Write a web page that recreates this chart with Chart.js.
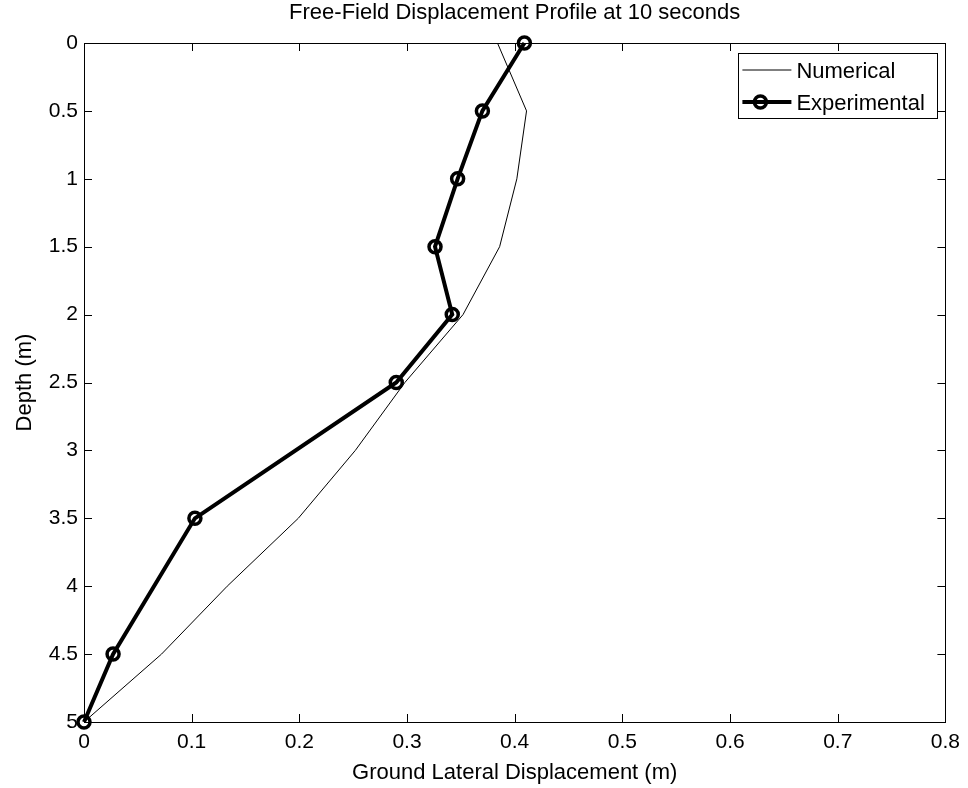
<!DOCTYPE html>
<html>
<head>
<meta charset="utf-8">
<title>Free-Field Displacement Profile</title>
<script src="https://cdn.jsdelivr.net/npm/chart.js@4/dist/chart.umd.min.js"></script>
<style>
  html, body { margin: 0; padding: 0; background: #fff; }
  #wrap { width: 968px; height: 788px; }
</style>
</head>
<body>
<div id="wrap"><canvas id="c" width="968" height="788"></canvas></div>
<script>
// Depth (m) and lateral displacement (m) for each profile
const numericalDepth = [0, 0.5, 1, 1.5, 2, 2.5, 3, 3.5, 4, 4.5, 5];
const numericalDisp  = [0.384, 0.411, 0.402, 0.386, 0.352, 0.298, 0.252, 0.199, 0.133, 0.072, 0];

const experimentalDepth = [0, 0.5, 1, 1.5, 2, 2.5, 3.5, 4.5, 5];
const experimentalDisp  = [0.409, 0.370, 0.347, 0.326, 0.342, 0.290, 0.103, 0.027, 0];

const xTicks = [0, 0.1, 0.2, 0.3, 0.4, 0.5, 0.6, 0.7, 0.8];
const yTicks = [0, 0.5, 1, 1.5, 2, 2.5, 3, 3.5, 4, 4.5, 5];

const FONT = '"Liberation Sans", Arial, Helvetica, sans-serif';
Chart.defaults.color = '#000';
Chart.defaults.font.family = FONT;

const toPoints = (xs, ys) => xs.map((x, i) => ({ x: x, y: ys[i] }));
const plainNumber = v => String(Math.round(v * 1000) / 1000);

// Full box around the axes with inward tick marks on all four sides
const frameTicks = {
  id: 'frameTicks',
  afterDatasetsDraw(chart) {
    const { ctx, chartArea: a, scales } = chart;
    const len = 8;
    ctx.save();
    ctx.strokeStyle = '#000';
    ctx.lineWidth = 1;
    ctx.beginPath();
    scales.x.ticks.forEach(t => {
      const px = Math.round(scales.x.getPixelForValue(t.value)) + 0.5;
      ctx.moveTo(px, a.bottom); ctx.lineTo(px, a.bottom - len);
      ctx.moveTo(px, a.top); ctx.lineTo(px, a.top + len);
    });
    scales.y.ticks.forEach(t => {
      const py = Math.round(scales.y.getPixelForValue(t.value)) + 0.5;
      ctx.moveTo(a.left, py); ctx.lineTo(a.left + len, py);
      ctx.moveTo(a.right, py); ctx.lineTo(a.right - len, py);
    });
    ctx.stroke();
    ctx.strokeRect(Math.round(a.left) + 0.5, Math.round(a.top) + 0.5,
                   Math.round(a.right - a.left), Math.round(a.bottom - a.top));
    ctx.restore();
  }
};

// Boxed legend in the upper-right corner of the axes
const boxLegend = {
  id: 'boxLegend',
  afterDraw(chart) {
    const { ctx, chartArea: a } = chart;
    const ds = chart.data.datasets;
    const bx = a.right - 207, by = a.top + 10, bw = 199, bh = 65;
    ctx.save();
    ctx.fillStyle = '#fff';
    ctx.fillRect(bx, by, bw, bh);
    ctx.strokeStyle = '#000';
    ctx.lineWidth = 1;
    ctx.strokeRect(Math.round(bx) + 0.5, Math.round(by) + 0.5, bw, bh);
    ctx.font = '22px ' + FONT;
    ctx.textBaseline = 'middle';
    ctx.fillStyle = '#000';
    const rows = [by + 17, by + 49];
    ds.forEach((d, i) => {
      const y = rows[i];
      ctx.strokeStyle = d.borderColor;
      ctx.lineWidth = d.borderWidth;
      ctx.beginPath();
      ctx.moveTo(bx + 4, y); ctx.lineTo(bx + 53, y);
      ctx.stroke();
      if (d.pointRadius > 0) {
        ctx.lineWidth = d.pointBorderWidth;
        ctx.beginPath();
        ctx.arc(bx + 22, y, d.pointRadius, 0, Math.PI * 2);
        ctx.stroke();
      }
      ctx.fillText(d.label, bx + 58, y + 2);
    });
    ctx.restore();
  }
};

new Chart(document.getElementById('c'), {
  type: 'scatter',
  data: {
    datasets: [
      {
        label: 'Numerical',
        data: toPoints(numericalDisp, numericalDepth),
        showLine: true,
        borderColor: '#000',
        borderWidth: 1,
        pointRadius: 0,
        pointBorderWidth: 0,
        tension: 0
      },
      {
        label: 'Experimental',
        data: toPoints(experimentalDisp, experimentalDepth),
        showLine: true,
        borderColor: '#000',
        borderWidth: 4,
        pointRadius: 6,
        pointBorderWidth: 3.5,
        pointBackgroundColor: 'rgba(0,0,0,0)',
        pointBorderColor: '#000',
        tension: 0,
        clip: false
      }
    ]
  },
  options: {
    responsive: false,
    animation: false,
    layout: { padding: { left: 0, right: 22, top: 0, bottom: 0 } },
    plugins: {
      legend: { display: false },
      tooltip: { enabled: false },
      title: {
        display: true,
        fullSize: false,
        text: 'Free-Field Displacement Profile at 10 seconds',
        font: { size: 22, weight: 'normal', family: FONT },
        color: '#000',
        padding: { top: 0, bottom: 16.6 }
      }
    },
    scales: {
      x: {
        type: 'linear',
        position: 'bottom',
        min: 0,
        max: 0.8,
        afterBuildTicks(s) { s.ticks = xTicks.map(v => ({ value: v })); },
        afterFit(s) { s.height = 66; },
        grid: { display: false, drawTicks: false },
        border: { display: false },
        ticks: { font: { size: 21 }, padding: 8, color: '#000', maxRotation: 0, callback: plainNumber },
        title: {
          display: true,
          text: 'Ground Lateral Displacement (m)',
          font: { size: 22 },
          color: '#000',
          padding: { top: 0, bottom: 2 }
        }
      },
      y: {
        type: 'linear',
        position: 'left',
        reverse: true,
        min: 0,
        max: 5,
        afterBuildTicks(s) { s.ticks = yTicks.map(v => ({ value: v })); },
        afterFit(s) { s.width = 84; },
        grid: { display: false, drawTicks: false },
        border: { display: false },
        ticks: { font: { size: 21 }, padding: 6, color: '#000', callback: plainNumber },
        title: {
          display: true,
          text: 'Depth (m)',
          font: { size: 22 },
          color: '#000',
          padding: { top: 12, bottom: 0 }
        }
      }
    }
  },
  plugins: [frameTicks, boxLegend]
});
</script>
</body>
</html>
